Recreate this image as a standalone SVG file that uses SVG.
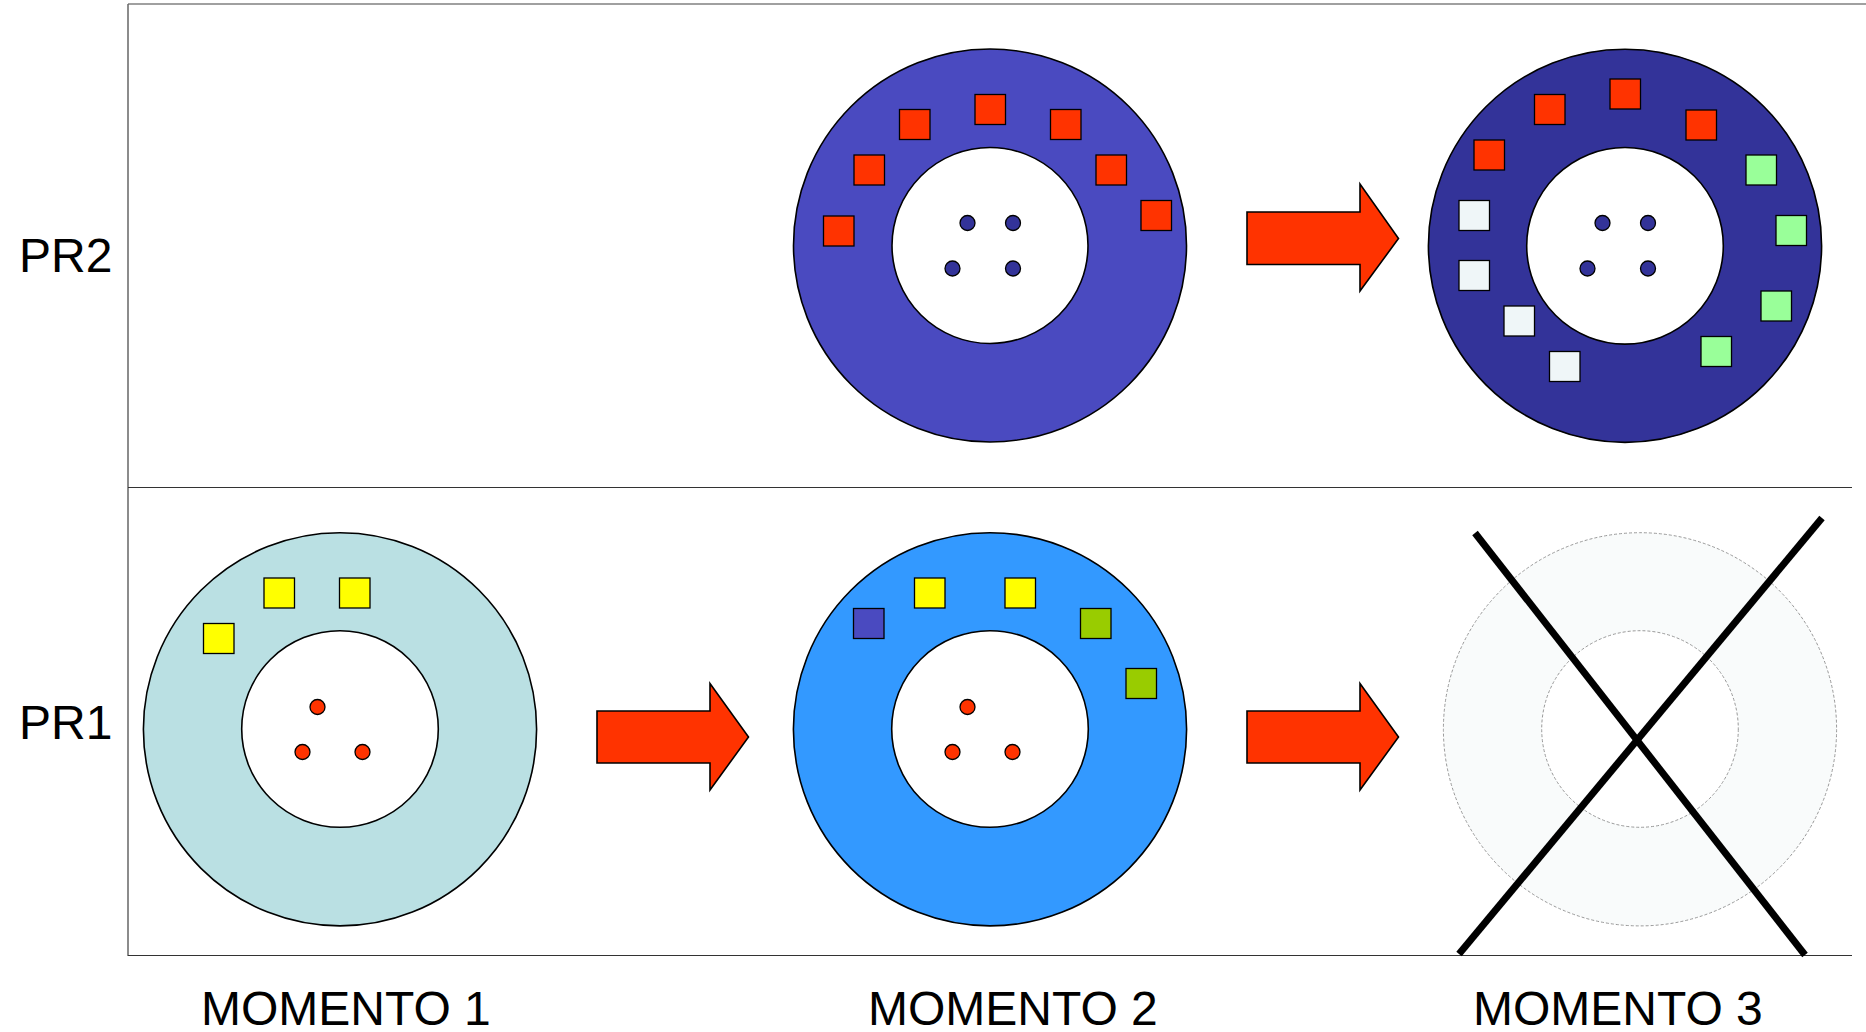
<svg xmlns="http://www.w3.org/2000/svg" width="1866" height="1032" viewBox="0 0 1866 1032">
<style>
.lbl{font-family:"Liberation Sans",Arial,sans-serif;font-size:48px;fill:#000}
.ring{stroke:#000;stroke-width:1.6}
.hole{fill:#fff;stroke:#000;stroke-width:1.6}
.sq{stroke:#000;stroke-width:1.3}
.dot{stroke:#000;stroke-width:1.3}
.red{fill:#ff3300}
.yel{fill:#ffff00}
.grn{fill:#99cc00}
.lgr{fill:#99ff99}
.wht{fill:#eff6f8}
.blu{fill:#4a4ac0}
.nav{fill:#333399}
.arrow{fill:#ff3300;stroke:#000;stroke-width:1.6;stroke-linejoin:miter}
.dash{fill:none;stroke:#999;stroke-width:1;stroke-dasharray:3 2}
.cross{stroke:#000;stroke-width:7}
</style>
<rect width="1866" height="1032" fill="#fff"/>
<g id="frame" fill="none">
<line x1="128" y1="4" x2="1866" y2="4" stroke="#808080" stroke-width="1.5"/>
<line x1="128" y1="4" x2="128" y2="956" stroke="#666" stroke-width="1.5"/>
<line x1="128" y1="487.5" x2="1852" y2="487.5" stroke="#333" stroke-width="1.2"/>
<line x1="128" y1="955.5" x2="1852" y2="955.5" stroke="#333" stroke-width="1.2"/>
</g>
<g id="labels">
<text class="lbl" x="19" y="272">PR2</text>
<text class="lbl" x="19" y="739">PR1</text>
<text class="lbl" x="201" y="1025">MOMENTO 1</text>
<text class="lbl" x="868" y="1025">MOMENTO 2</text>
<text class="lbl" x="1473" y="1025">MOMENTO 3</text>
</g>
<g id="pr2-m2">
<circle class="ring" cx="990" cy="245.5" r="196.5" fill="#4a4ac0"/>
<circle class="hole" cx="990" cy="245.5" r="98"/>
<rect class="sq red" x="823.5" y="216" width="30.5" height="30"/>
<rect class="sq red" x="854" y="155" width="30.5" height="30"/>
<rect class="sq red" x="899.5" y="109.5" width="30.5" height="30"/>
<rect class="sq red" x="975" y="94.5" width="30.5" height="30"/>
<rect class="sq red" x="1050.5" y="109.5" width="30.5" height="30"/>
<rect class="sq red" x="1096" y="155" width="30.5" height="30"/>
<rect class="sq red" x="1141" y="200.5" width="30.5" height="30"/>
<circle class="dot nav" cx="967.5" cy="223" r="7.5"/>
<circle class="dot nav" cx="1013" cy="223" r="7.5"/>
<circle class="dot nav" cx="952.5" cy="268.5" r="7.5"/>
<circle class="dot nav" cx="1013" cy="268.5" r="7.5"/>
</g>
<g id="pr2-m3">
<circle class="ring" cx="1625" cy="245.8" r="196.6" fill="#333399"/>
<circle class="hole" cx="1625" cy="245.8" r="98.3"/>
<rect class="sq red" x="1610" y="79" width="30.5" height="30"/>
<rect class="sq red" x="1534.5" y="94.5" width="30.5" height="30"/>
<rect class="sq red" x="1686" y="110" width="30.5" height="30"/>
<rect class="sq red" x="1474" y="140" width="30.5" height="30"/>
<rect class="sq lgr" x="1746" y="155" width="30.5" height="30"/>
<rect class="sq lgr" x="1776" y="215.5" width="30.5" height="30"/>
<rect class="sq lgr" x="1761" y="291" width="30.5" height="30"/>
<rect class="sq lgr" x="1701" y="336.5" width="30.5" height="30"/>
<rect class="sq wht" x="1459" y="200.5" width="30.5" height="30"/>
<rect class="sq wht" x="1459" y="260.5" width="30.5" height="30"/>
<rect class="sq wht" x="1504" y="306" width="30.5" height="30"/>
<rect class="sq wht" x="1549.5" y="351.5" width="30.5" height="30"/>
<circle class="dot nav" cx="1602.5" cy="223" r="7.5"/>
<circle class="dot nav" cx="1648" cy="223" r="7.5"/>
<circle class="dot nav" cx="1587.5" cy="268.5" r="7.5"/>
<circle class="dot nav" cx="1648" cy="268.5" r="7.5"/>
</g>
<g id="pr1-m1">
<circle class="ring" cx="340" cy="729.3" r="196.6" fill="#bae0e3"/>
<circle class="hole" cx="340" cy="729" r="98.3"/>
<rect class="sq yel" x="264" y="578" width="30.5" height="30"/>
<rect class="sq yel" x="339.5" y="578" width="30.5" height="30"/>
<rect class="sq yel" x="203.5" y="623.5" width="30.5" height="30"/>
<circle class="dot red" cx="317.5" cy="707" r="7.5"/>
<circle class="dot red" cx="302.5" cy="752" r="7.5"/>
<circle class="dot red" cx="362.5" cy="752" r="7.5"/>
</g>
<g id="pr1-m2">
<circle class="ring" cx="990" cy="729.3" r="196.6" fill="#3399ff"/>
<circle class="hole" cx="990" cy="729" r="98.3"/>
<rect class="sq blu" x="853.5" y="608.5" width="30.5" height="30"/>
<rect class="sq yel" x="914.5" y="578" width="30.5" height="30"/>
<rect class="sq yel" x="1005" y="578" width="30.5" height="30"/>
<rect class="sq grn" x="1080.5" y="608.5" width="30.5" height="30"/>
<rect class="sq grn" x="1126" y="668.5" width="30.5" height="30"/>
<circle class="dot red" cx="967.5" cy="707" r="7.5"/>
<circle class="dot red" cx="952.5" cy="752" r="7.5"/>
<circle class="dot red" cx="1012.5" cy="752" r="7.5"/>
</g>
<g id="pr1-m3">
<circle cx="1640" cy="729.3" r="196.6" fill="#f9fbfb" stroke="none"/>
<circle cx="1640" cy="729" r="98.3" fill="#fff" stroke="none"/>
<circle class="dash" cx="1640" cy="729.3" r="196.6"/>
<circle class="dash" cx="1640" cy="729" r="98.3"/>
<line class="cross" x1="1475" y1="533" x2="1805" y2="955"/>
<line class="cross" x1="1822" y1="518" x2="1459" y2="954"/>
</g>
<g id="connectors">
<path class="arrow" d="M597,711 H710 V683.5 L748.5,737 L710,790 V763 H597 Z"/>
<path class="arrow" d="M1247,711 H1360 V683.5 L1398.5,737 L1360,790 V763 H1247 Z"/>
<path class="arrow" d="M1247,212 H1360 V184 L1398.5,238.5 L1360,291 V264.5 H1247 Z"/>
</g>
</svg>
